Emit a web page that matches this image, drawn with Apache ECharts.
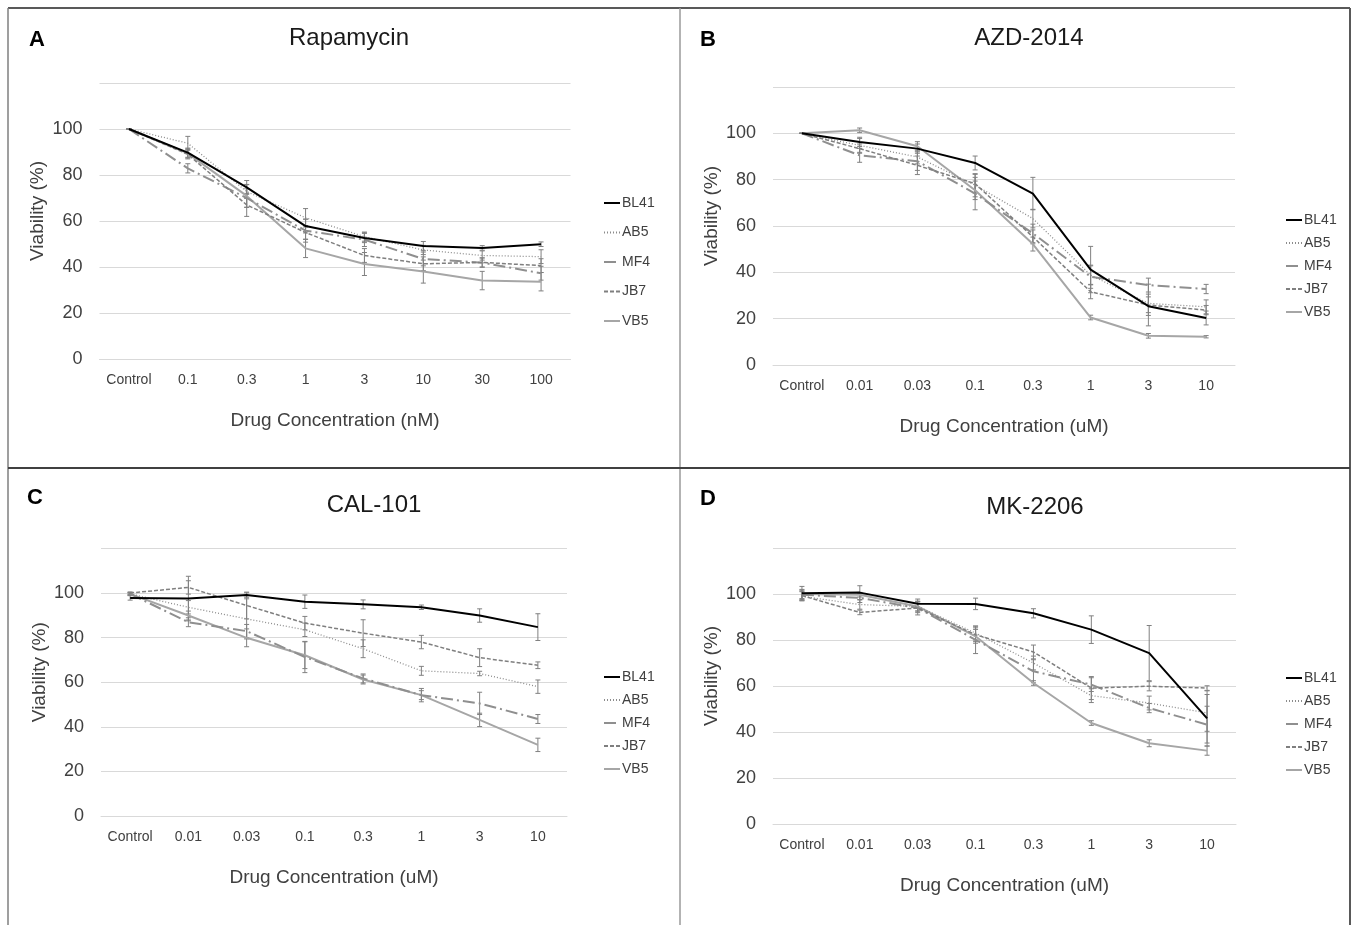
<!DOCTYPE html>
<html>
<head>
<meta charset="utf-8">
<script src="https://cdn.jsdelivr.net/npm/echarts@6/dist/echarts.min.js"></script>
<style>
  html, body { margin: 0; padding: 0; background: #fff; }
  #main { width: 1354px; height: 925px; }
</style>
</head>
<body>
<div id="main"></div>
<script>
// categories
var catsNM = ['Control', '0.1', '0.3', '1', '3', '10', '30', '100'];
var catsUM = ['Control', '0.01', '0.03', '0.1', '0.3', '1', '3', '10'];
var cellLines = ['BL41', 'AB5', 'MF4', 'JB7', 'VB5'];

// viability (%) per cell line, rows in cellLines order
var rapaMean = [
    [100, 89.7, 74.6, 57.8, 52.6, 49.1, 48.3, 49.9],
    [100, 93.8, 72.8, 61.4, 53.2, 47.4, 45.0, 44.5],
    [100, 82.9, 70.0, 55.8, 51.9, 43.5, 41.9, 37.3],
    [100, 89.0, 67.0, 55.0, 45.0, 41.4, 42.0, 40.6],
    [100, 89.4, 70.9, 48.1, 41.3, 38.0, 34.1, 33.6]
];
var rapaErr = [
    [0, 2, 3, 3, 2, 2, 1, 1],
    [0, 3, 3, 4, 2, 2, 2, 3],
    [0, 2, 4, 5, 3, 3, 2, 3],
    [0, 2, 5, 3, 3, 3, 2, 3],
    [0, 2, 5, 4, 5, 5, 4, 4]
];
var azdMean = [
    [100, 96.3, 93.4, 87.2, 74.0, 41.2, 25.4, 20.3],
    [100, 94.8, 89.8, 77.6, 63.2, 38.8, 26.6, 25.1],
    [100, 90.5, 88.0, 74.0, 56.8, 38.1, 34.5, 32.8],
    [100, 93.4, 86.2, 78.3, 55.3, 31.6, 25.9, 23.7],
    [100, 101.3, 94.4, 75.4, 52.2, 20.5, 12.6, 12.2]
];
var azdErr = [
    [0, 2, 2, 3, 7, 10, 4, 3],
    [0, 3, 3, 5, 4, 4, 4, 3],
    [0, 3, 4, 7, 4, 5, 3, 2],
    [0, 2, 4, 4, 3, 3, 9, 2],
    [0, 1, 2, 4, 3, 1, 1, 0.5]
];
var calMean = [
    [97.8, 97.5, 99.1, 96.1, 94.9, 93.6, 89.9, 84.7],
    [99.6, 93.6, 88.4, 83.5, 75.0, 65.1, 63.9, 58.0],
    [99.6, 86.9, 82.9, 71.3, 61.7, 54.2, 50.5, 43.5],
    [100, 102.5, 94.4, 86.5, 82.0, 78.0, 71.0, 67.6],
    [99.6, 89.9, 79.9, 72.1, 61.2, 54.2, 43.1, 31.9]
];
var calErr = [
    [1, 10, 1, 3, 2, 1, 3, 6],
    [0.5, 3, 9, 3, 4, 2, 1, 3],
    [0.5, 2, 3, 7, 2, 3, 5, 2],
    [0.5, 3, 6, 3, 6, 3, 4, 1.5],
    [0.5, 2, 4, 6, 2, 2, 3, 3]
];
var mkMean = [
    [100.3, 100.6, 95.8, 95.7, 91.6, 84.5, 74.3, 45.9],
    [99.0, 95.4, 94.6, 83.0, 70.0, 55.8, 52.6, 48.3],
    [99.7, 98.3, 93.9, 80.1, 66.4, 60.6, 50.4, 43.2],
    [99.3, 92.0, 93.9, 82.3, 74.8, 59.1, 59.9, 59.1],
    [100, 99.7, 94.6, 81.6, 61.3, 43.9, 35.1, 31.9]
];
var mkErr = [
    [3, 3, 2, 2.5, 2, 6, 12, 12],
    [2, 2, 2, 3, 3, 3, 3, 8],
    [2, 2, 3, 6, 5, 3, 2, 8],
    [2, 1, 2, 3, 3, 5, 2, 1],
    [2, 1, 2, 3, 1, 1, 1.5, 2]
];

var FONT = 'Liberation Sans, Arial, sans-serif';
var TXT = '#404040';

var lineStyles = [
    {color: '#000000', width: 2, type: 'solid'},
    {color: '#8c8c8c', width: 1.3, type: [1, 2]},
    {color: '#8f8f8f', width: 2, type: [12, 4, 2, 4]},
    {color: '#7f7f7f', width: 1.5, type: [4, 2]},
    {color: '#a6a6a6', width: 2, type: 'solid'}
];
var zs = [10, 6, 5, 7, 4];

var panels = [
    {letter: 'A', title: 'Rapamycin', cats: catsNM, unit: 'nM', mean: rapaMean, err: rapaErr,
        grid: {left: 99.5, top: 83, width: 471, height: 276},
        titleX: 344, titleY: 21, letterX: 24, letterY: 24,
        legend: {left: 598, top: 191, gap: 15.5}},
    {letter: 'B', title: 'AZD-2014', cats: catsUM, unit: 'uM', mean: azdMean, err: azdErr,
        grid: {left: 773, top: 87, width: 462, height: 278},
        titleX: 1024, titleY: 21, letterX: 695, letterY: 24,
        legend: {left: 1280, top: 208, gap: 9}},
    {letter: 'C', title: 'CAL-101', cats: catsUM, unit: 'uM', mean: calMean, err: calErr,
        grid: {left: 101, top: 548.4, width: 466, height: 267.6},
        titleX: 369, titleY: 488, letterX: 22, letterY: 482,
        legend: {left: 598, top: 665, gap: 9}},
    {letter: 'D', title: 'MK-2206', cats: catsUM, unit: 'uM', mean: mkMean, err: mkErr,
        grid: {left: 773, top: 548, width: 463, height: 276},
        titleX: 1030, titleY: 490, letterX: 695, letterY: 483,
        legend: {left: 1280, top: 666, gap: 9}}
];

function errorRender(params, api) {
    var x = api.value(0);
    var lo = api.coord([x, api.value(1)]);
    var hi = api.coord([x, api.value(2)]);
    var c = 2.5;
    var st = {stroke: '#808080', lineWidth: 1};
    return {
        type: 'group',
        children: [
            {type: 'line', shape: {x1: lo[0], y1: lo[1], x2: hi[0], y2: hi[1]}, style: st},
            {type: 'line', shape: {x1: lo[0] - c, y1: lo[1], x2: lo[0] + c, y2: lo[1]}, style: st},
            {type: 'line', shape: {x1: hi[0] - c, y1: hi[1], x2: hi[0] + c, y2: hi[1]}, style: st}
        ]
    };
}

var grids = [], xAxes = [], yAxes = [], titles = [], legends = [], series = [];
panels.forEach(function (p, pi) {
    grids.push(p.grid);
    xAxes.push({
        type: 'category', gridIndex: pi, data: p.cats, boundaryGap: true,
        axisLine: {show: true, lineStyle: {color: '#d9d9d9', width: 1}},
        axisTick: {show: false},
        axisLabel: {color: TXT, fontSize: 14, fontFamily: FONT, margin: 14, interval: 0},
        name: 'Drug Concentration (' + p.unit + ')', nameLocation: 'middle', nameGap: 52,
        nameTextStyle: {color: TXT, fontSize: 19, fontFamily: FONT}
    });
    yAxes.push({
        type: 'value', gridIndex: pi, min: 0, max: 120, interval: 20,
        axisLine: {show: false}, axisTick: {show: false},
        splitLine: {lineStyle: {color: '#d9d9d9', width: 1}},
        axisLabel: {color: TXT, fontSize: 18, fontFamily: FONT, margin: 17, showMaxLabel: false},
        name: 'Viability (%)', nameLocation: 'middle', nameGap: 52, nameRotate: 90,
        nameTextStyle: {color: TXT, fontSize: 19, fontFamily: FONT, padding: [0, 0, 0, 20]}
    });
    titles.push({
        text: p.title, left: p.titleX, top: p.titleY, textAlign: 'center',
        textStyle: {color: '#1a1a1a', fontSize: 24, fontWeight: 'normal', fontFamily: FONT}
    });
    titles.push({
        text: p.letter, left: p.letterX, top: p.letterY,
        textStyle: {color: '#000', fontSize: 22, fontWeight: 'bold', fontFamily: FONT}
    });
    legends.push({
        data: cellLines, orient: 'vertical', left: p.legend.left, top: p.legend.top,
        itemGap: p.legend.gap, itemWidth: 16, itemHeight: 14,
        itemStyle: {opacity: 0},
        textStyle: {color: TXT, fontSize: 14, fontFamily: FONT, padding: [0, 0, 0, -3]},
        selectedMode: false
    });
    cellLines.forEach(function (name, i) {
        series.push({
            name: name, type: 'line', xAxisIndex: pi, yAxisIndex: pi,
            data: p.mean[i], symbol: 'none', z: zs[i], silent: true,
            color: lineStyles[i].color,
            lineStyle: lineStyles[i]
        });
    });
    cellLines.forEach(function (name, i) {
        series.push({
            type: 'custom', xAxisIndex: pi, yAxisIndex: pi, z: 2,
            renderItem: errorRender, silent: true,
            data: p.mean[i].map(function (m, k) { return [k, m - p.err[i][k], m + p.err[i][k]]; })
        });
    });
});

var option = {
    backgroundColor: '#ffffff',
    animation: false,
    title: titles,
    legend: legends,
    grid: grids,
    xAxis: xAxes,
    yAxis: yAxes,
    series: series,
    graphic: [
        {type: 'line', shape: {x1: 8, y1: 8, x2: 1350, y2: 8}, style: {stroke: '#595959', lineWidth: 2}},
        {type: 'line', shape: {x1: 8, y1: 8, x2: 8, y2: 925}, style: {stroke: '#7f7f7f', lineWidth: 1.5}},
        {type: 'line', shape: {x1: 1350, y1: 8, x2: 1350, y2: 925}, style: {stroke: '#595959', lineWidth: 2}},
        {type: 'line', shape: {x1: 680, y1: 8, x2: 680, y2: 925}, style: {stroke: '#9a9a9a', lineWidth: 1.5}},
        {type: 'line', shape: {x1: 8, y1: 468, x2: 1350, y2: 468}, style: {stroke: '#404040', lineWidth: 2}}
    ]
};

var myChart = echarts.init(document.getElementById('main'));
myChart.setOption(option);
window.addEventListener('resize', function () {
    myChart.resize();
});
</script>
</body>
</html>
